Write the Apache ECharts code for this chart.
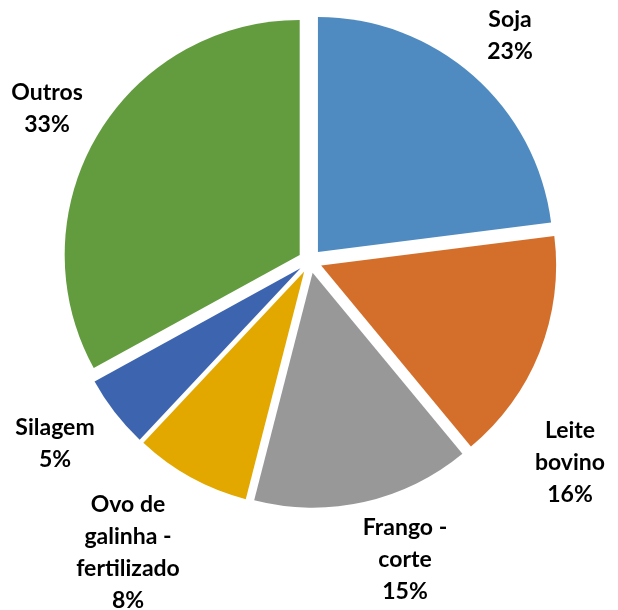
<!DOCTYPE html>
<html>
<head>
<meta charset="utf-8">
<script src="https://cdn.jsdelivr.net/npm/echarts@6/dist/echarts.min.js"></script>
<style>
  html, body { margin: 0; padding: 0; background: #ffffff; }
  #chart { width: 618px; height: 610px; }
</style>
</head>
<body>
<div id="chart"></div>
<script>
// categorias e valores (%)
const categories = ['Soja', 'Leite\nbovino', 'Frango -\ncorte', 'Ovo de\ngalinha -\nfertilizado', 'Silagem', 'Outros'];
const values = [23, 16, 15, 8, 5, 33];
const colors = ['#4F8BC0', '#D46F2B', '#989898', '#E2A800', '#3D64AE', '#639B3F'];

// posição do centro dos rótulos (texto)
const labelSpots = [[510, 36], [570, 463], [405, 560], [128, 553], [55, 444], [47, 109]];

const chart = echarts.init(document.getElementById('chart'), null, { renderer: 'canvas' });

const pieData = categories.map((name, i) => ({ name: name, value: values[i] }));

const option = {
  backgroundColor: '#ffffff',
  animation: false,
  series: [
    {
      // fatias destacadas
      type: 'pie',
      center: [310, 261],
      radius: [0, 235],
      startAngle: 90,
      clockwise: true,
      selectedMode: 'multiple',
      selectedOffset: 12,
      data: pieData.map((d, i) => ({ ...d, selected: true, itemStyle: { color: colors[i] } })),
      label: { show: false },
      labelLine: { show: false },
      emphasis: { disabled: true }
    },
    {
      // só os rótulos
      type: 'pie',
      silent: true,
      z: 5,
      center: [310, 261],
      radius: [0, 235],
      startAngle: 90,
      clockwise: true,
      data: pieData,
      itemStyle: { color: 'rgba(0,0,0,0)' },
      label: {
        show: true,
        position: 'outside',
        overflow: 'none',
        formatter: (p) => p.name + '\n' + Math.round(p.percent) + '%',
        fontFamily: 'Lato, "Open Sans", sans-serif',
        fontWeight: 'bold',
        fontSize: 23,
        lineHeight: 32,
        color: '#000000',
        align: 'center'
      },
      labelLine: { show: false },
      labelLayout: function (params) {
        const s = labelSpots[params.dataIndex];
        return { x: s[0], y: s[1], align: 'center', verticalAlign: 'middle', hideOverlap: false };
      },
      emphasis: { disabled: true }
    }
  ]
};

chart.setOption(option);
</script>
</body>
</html>
